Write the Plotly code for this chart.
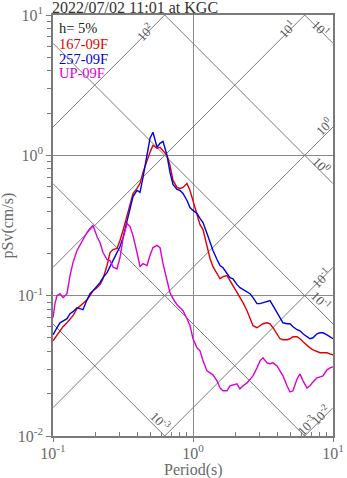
import numpy as np
import plotly.graph_objects as go

# ---- data (period in s, pSv in cm/s) ----
periods = [0.100, 0.1033, 0.1068, 0.1122, 0.1179, 0.1259, 0.1323, 0.1389, 0.1484, 0.1560,
           0.1638, 0.1750, 0.1838, 0.1931, 0.2062, 0.2166, 0.2276, 0.2431, 0.2554, 0.2683,
           0.2865, 0.3010, 0.3162, 0.3378, 0.3548, 0.3728, 0.3981, 0.4183, 0.4394, 0.4693,
           0.4931, 0.5179, 0.5534, 0.5812, 0.6105, 0.6522, 0.6850, 0.7197, 0.7687, 0.8076,
           0.8483, 0.9061, 0.9519, 1.000, 1.068, 1.122, 1.179, 1.259, 1.323, 1.389,
           1.484, 1.560, 1.638, 1.750, 1.838, 1.931, 2.062, 2.166, 2.276, 2.431,
           2.554, 2.683, 2.865, 3.010, 3.162, 3.378, 3.548, 3.728, 3.981, 4.183,
           4.394, 4.693, 4.931, 5.179, 5.534, 5.812, 6.105, 6.522, 6.850, 7.197,
           7.687, 8.076, 8.483, 9.061, 9.519, 10.00]

sv_167 = [0.0477, 0.0501, 0.0526, 0.0562, 0.0601, 0.0641, 0.0685, 0.0720, 0.0807, 0.0848,
          0.0877, 0.0936, 0.100, 0.1086, 0.114, 0.1198, 0.132, 0.164, 0.203, 0.213,
          0.217, 0.247, 0.291, 0.373, 0.462, 0.535, 0.581, 0.631, 0.756, 0.921,
          1.050, 1.179, 1.122, 1.141, 1.086, 1.000, 0.848, 0.663, 0.591, 0.581,
          0.591, 0.631, 0.562, 0.477, 0.370, 0.321, 0.296, 0.228, 0.184, 0.161,
          0.1436, 0.132, 0.1367, 0.139, 0.128, 0.118, 0.1068, 0.0968, 0.0891, 0.0781,
          0.0685, 0.0611, 0.0591, 0.0611, 0.0631, 0.0641, 0.0631, 0.0591, 0.0535, 0.0493,
          0.0485, 0.0485, 0.0493, 0.0510, 0.0510, 0.0493, 0.0469, 0.0439, 0.0425, 0.0411,
          0.0398, 0.0392, 0.0392, 0.0392, 0.0385, 0.0379]

sv_257 = [0.0526, 0.0562, 0.0591, 0.0641, 0.0663, 0.0685, 0.0744, 0.0769, 0.0821, 0.0807,
          0.0794, 0.0936, 0.1033, 0.1086, 0.116, 0.1238, 0.1345, 0.146, 0.161, 0.178,
          0.203, 0.224, 0.259, 0.343, 0.418, 0.509, 0.562, 0.544, 0.696, 1.000,
          1.323, 1.460, 1.141, 1.218, 1.259, 1.000, 0.756, 0.621, 0.572, 0.562,
          0.535, 0.477, 0.425, 0.405, 0.385, 0.355, 0.332, 0.277, 0.239, 0.210,
          0.181, 0.164, 0.158, 0.1436, 0.1345, 0.132, 0.1198, 0.114, 0.1104, 0.1068,
          0.1033, 0.0968, 0.0877, 0.0877, 0.0891, 0.0906, 0.0921, 0.0848, 0.0756, 0.0685,
          0.0641, 0.0631, 0.0631, 0.0601, 0.0572, 0.0562, 0.0535, 0.0510, 0.0493, 0.0501,
          0.0535, 0.0544, 0.0544, 0.0526, 0.0510, 0.0493]

sv_up = [0.0696, 0.0877, 0.100, 0.1033, 0.0968, 0.1033, 0.139, 0.172, 0.210, 0.231,
         0.247, 0.282, 0.301, 0.316, 0.264, 0.239, 0.203, 0.181, 0.178, 0.160,
         0.155, 0.187, 0.255, 0.327, 0.311, 0.268, 0.203, 0.161, 0.169, 0.164,
         0.193, 0.220, 0.228, 0.220, 0.169, 0.128, 0.105, 0.0952, 0.0862, 0.0821,
         0.0781, 0.0685, 0.0611, 0.0493, 0.0425, 0.0405, 0.0343, 0.0291, 0.0282, 0.0273,
         0.0247, 0.0220, 0.0210, 0.0210, 0.0228, 0.0231, 0.0235, 0.0217, 0.0228, 0.0239,
         0.0251, 0.0268, 0.0306, 0.0343, 0.0361, 0.0332, 0.0327, 0.0332, 0.0316, 0.0291,
         0.0268, 0.0228, 0.0206, 0.0210, 0.0255, 0.0277, 0.0247, 0.0220, 0.0228, 0.0243,
         0.0260, 0.0264, 0.0268, 0.0296, 0.0306, 0.0311]

series_names = ["167-09F", "257-09F", "UP-09F"]
series_colors = ["#e00000", "#0000e0", "#d800d8"]
title_text = "2022/07/02 11:01 at KGC"
damping_text = "h= 5%"

disp_levels = [1e-3, 1e-2, 1e-1, 1, 10]      # cm   (descending lines)
acc_levels = [1e-2, 1e-1, 1, 10, 100]        # cm/s2 (ascending lines)

x_major = [0.1, 1, 10]
x_major_text = ["10<sup>-1</sup>", "10<sup>0</sup>", "10<sup>1</sup>"]
y_major = [0.01, 0.1, 1, 10]
y_major_text = ["10<sup>-2</sup>", "10<sup>-1</sup>", "10<sup>0</sup>", "10<sup>1</sup>"]

FONT = "Liberation Serif, Times New Roman, serif"
GRID = "#7a7a7a"
TXT = "#6a6a6a"
LBL = "#555555"

fig = go.Figure()

T_ends = np.array([0.1, 10.0])
for D in disp_levels:
    fig.add_trace(go.Scatter(x=T_ends, y=2 * np.pi * D / T_ends, mode="lines",
                             line=dict(color=GRID, width=1), hoverinfo="skip", showlegend=False))
for A in acc_levels:
    fig.add_trace(go.Scatter(x=T_ends, y=A * T_ends / (2 * np.pi), mode="lines",
                             line=dict(color=GRID, width=1), hoverinfo="skip", showlegend=False))

for name, sv, col in zip(series_names, [sv_167, sv_257, sv_up], series_colors):
    fig.add_trace(go.Scatter(x=periods, y=sv, mode="lines", name=name,
                             line=dict(color=col, width=1.4), showlegend=False))


def acc_point(A, edge):
    if edge == "top":
        return 2 * np.pi * 10 / A, 10.0
    if edge == "right":
        return 10.0, A * 10 / (2 * np.pi)
    return 2 * np.pi * 0.01 / A, 0.01


def disp_point(D, edge):
    if edge == "top":
        return 2 * np.pi * D / 10, 10.0
    if edge == "right":
        return 10.0, 2 * np.pi * D / 10
    return 2 * np.pi * D / 0.01, 0.01


line_labels = [
    ("10<sup>2</sup>", "acc", 100, "top", -20, -17),
    ("10<sup>1</sup>", "acc", 10, "top", -18, -14),
    ("10<sup>1</sup>", "disp", 10, "top", 16, -13),
    ("10<sup>0</sup>", "acc", 1, "right", -9, 1),
    ("10<sup>0</sup>", "disp", 1, "right", -11, 19),
    ("10<sup>-1</sup>", "acc", 0.1, "right", -12, -11),
    ("10<sup>-1</sup>", "disp", 0.1, "right", -12, 24),
    ("10<sup>-3</sup>", "disp", 0.001, "bottom", -4, 15),
    ("10<sup>-3</sup>", "dispasc", 0.01, "bottom", 2, 11),
    ("10<sup>-2</sup>", "acc", 0.01, "right", -13, -7),
]
for text, kind, lev, edge, dx, dy in line_labels:
    if kind == "acc":
        T, S = acc_point(lev, edge)
        ang = -45
    elif kind == "disp":
        T, S = disp_point(lev, edge)
        ang = 45
    else:
        T, S = disp_point(lev, edge)
        ang = -45
    fig.add_annotation(x=np.log10(T), y=np.log10(S), xref="x", yref="y", text=text,
                       showarrow=False, textangle=ang, xshift=dx, yshift=dy,
                       font=dict(family=FONT, size=13, color=LBL))

# title
fig.add_annotation(x=0, y=1, xref="paper", yref="paper", xanchor="left", yanchor="bottom",
                   text=title_text, showarrow=False, yshift=-3, xshift=-3,
                   font=dict(family=FONT, size=16, color="#333333"))

# legend-like text block
leg_items = [(damping_text, "#222222", 28)] + [(n, c, p) for n, c, p in zip(series_names, series_colors, [44, 59, 73])]
for txt, col, py in leg_items:
    fig.add_annotation(x=0, y=1 - (py - 15) / 421, xref="paper", yref="paper",
                       xanchor="left", yanchor="middle", xshift=4, text=txt, showarrow=False,
                       font=dict(family=FONT, size=14.5, color=col))

# axis titles
fig.add_annotation(x=0, y=0.5, xref="paper", yref="paper", xanchor="center", yanchor="middle",
                   xshift=-46, text="pSv(cm/s)", textangle=-90, showarrow=False,
                   font=dict(family=FONT, size=16, color=TXT))
fig.add_annotation(x=0.5, y=0, xref="paper", yref="paper", xanchor="center", yanchor="middle",
                   yshift=-34, text="Period(s)", showarrow=False,
                   font=dict(family=FONT, size=16, color=TXT))

x_minor = [m * 10.0 ** e for e in (-1, 0) for m in range(2, 10)]
y_minor = [m * 10.0 ** e for e in (-2, -1, 0) for m in range(2, 10)]

fig.update_xaxes(type="log", range=[-1, 1], tickmode="array", tickvals=x_major, ticktext=x_major_text,
                 ticks="outside", ticklen=4, tickcolor=GRID, showline=True, linecolor=GRID, linewidth=1.5,
                 mirror=True, showgrid=True, gridcolor="#8a8a8a", gridwidth=1.3, zeroline=False,
                 automargin=False, ticklabelstandoff=-2,
                 tickfont=dict(family=FONT, size=16, color=TXT),
                 minor=dict(tickmode="array", tickvals=x_minor, ticks="inside", ticklen=4,
                            tickcolor=GRID, showgrid=False))
fig.update_yaxes(type="log", range=[-2, 1], tickmode="array", tickvals=y_major, ticktext=y_major_text,
                 ticks="outside", ticklen=5, tickcolor=GRID, showline=True, linecolor=GRID, linewidth=1.5,
                 mirror=True, showgrid=True, gridcolor="#8a8a8a", gridwidth=1.3, zeroline=False,
                 automargin=False,
                 tickfont=dict(family=FONT, size=16, color=TXT),
                 minor=dict(tickmode="array", tickvals=y_minor, ticks="outside", ticklen=4,
                            tickcolor=GRID, showgrid=False))

fig.update_layout(width=347, height=478, margin=dict(l=53, r=14, t=15, b=42, autoexpand=False),
                  plot_bgcolor="white", paper_bgcolor="white", showlegend=False)

fig.write_html("out.html")
